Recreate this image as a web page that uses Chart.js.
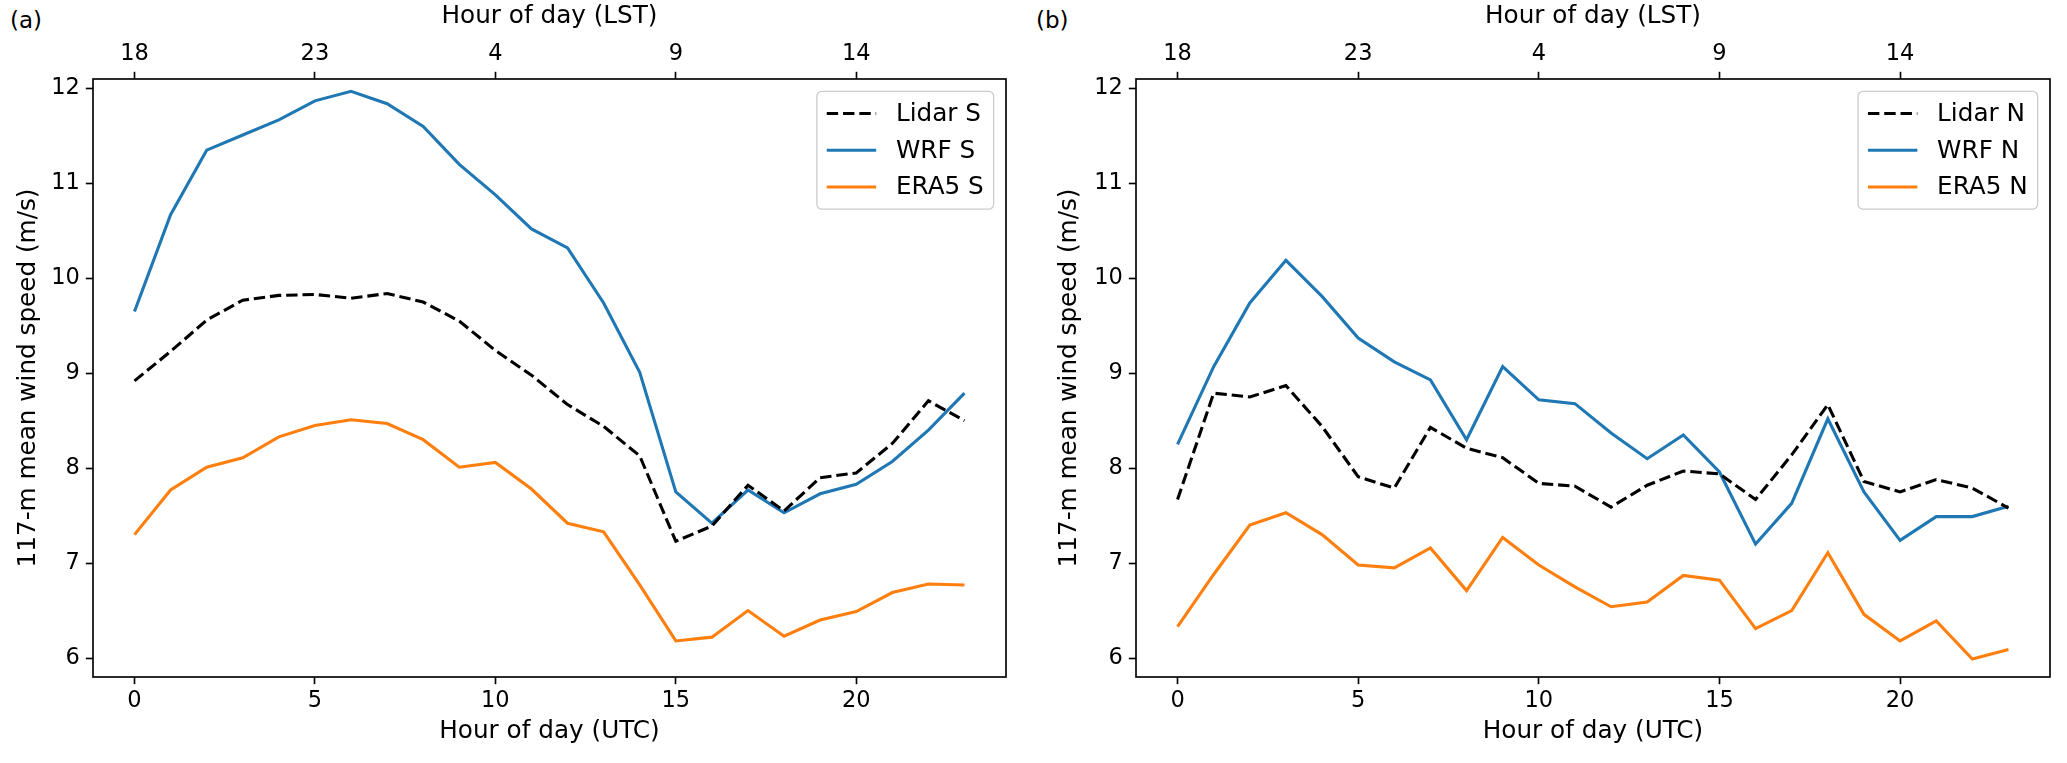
<!DOCTYPE html>
<html lang="en">
<head>
<meta charset="UTF-8">
<title>117-m mean wind speed</title>
<script src="https://cdn.jsdelivr.net/npm/chart.js"></script>
<style>
  body, html {
    margin: 0;
    background: #fff;
    width: 2067px;
    height: 763px;
    overflow: hidden;
    font-family: "DejaVu Sans", sans-serif;
  }
  canvas { position: absolute; top: 0; }
  #chartA { left: 0; }
  #chartB { left: 1030px; }
  .panel-label {
    position: absolute;
    top: 7px;
    font-size: 23px;
    color: #000;
  }
</style>
</head>
<body>
<div class="panel-label" style="left:10px;">(a)</div>
<div class="panel-label" style="left:1036px;">(b)</div>
<canvas id="chartA" width="1030" height="763"></canvas>
<canvas id="chartB" width="1037" height="763"></canvas>

<script>
// data (hour of day, UTC)
const hoursUTC = [0, 1, 2, 3, 4, 5, 6, 7, 8, 9, 10, 11, 12, 13, 14, 15, 16, 17, 18, 19, 20, 21, 22, 23];
const utcTicks = [0, 5, 10, 15, 20];
const lstTickLabels = ['18', '23', '4', '9', '14'];
const yTicks = [6, 7, 8, 9, 10, 11, 12];

// panel (a) - south
const lidarS = [8.92, 9.23, 9.56, 9.77, 9.82, 9.83, 9.79, 9.84, 9.75, 9.55, 9.24, 8.98, 8.67, 8.44, 8.13, 7.23, 7.39, 7.82, 7.55, 7.90, 7.95, 8.26, 8.71, 8.50];
const wrfS   = [9.65, 10.67, 11.35, 11.51, 11.67, 11.87, 11.97, 11.84, 11.60, 11.20, 10.88, 10.52, 10.32, 9.74, 9.01, 7.75, 7.42, 7.77, 7.53, 7.73, 7.83, 8.07, 8.40, 8.79];
const era5S  = [7.30, 7.77, 8.01, 8.11, 8.33, 8.45, 8.51, 8.47, 8.30, 8.01, 8.06, 7.78, 7.42, 7.33, 6.77, 6.18, 6.22, 6.50, 6.23, 6.40, 6.49, 6.69, 6.78, 6.77];

// panel (b) - north
const lidarN = [7.67, 8.79, 8.75, 8.87, 8.44, 7.91, 7.79, 8.43, 8.21, 8.11, 7.84, 7.81, 7.59, 7.82, 7.97, 7.94, 7.67, 8.14, 8.67, 7.86, 7.75, 7.88, 7.79, 7.58];
const wrfN   = [8.25, 9.07, 9.74, 10.19, 9.81, 9.37, 9.12, 8.93, 8.30, 9.07, 8.72, 8.68, 8.37, 8.10, 8.35, 7.96, 7.20, 7.63, 8.52, 7.75, 7.24, 7.49, 7.49, 7.60];
const era5N  = [6.33, 6.88, 7.40, 7.53, 7.30, 6.98, 6.95, 7.16, 6.71, 7.27, 6.98, 6.75, 6.54, 6.59, 6.87, 6.82, 6.31, 6.50, 7.11, 6.46, 6.18, 6.39, 5.99, 6.09];

Chart.defaults.font.family = '"DejaVu Sans", sans-serif';
Chart.defaults.color = '#000';

const TICK_FONT = { family: '"DejaVu Sans", sans-serif', size: 22.5 };
const TITLE_FONT = { family: '"DejaVu Sans", sans-serif', size: 24.7 };

function points(values) {
  return hoursUTC.map((h, i) => ({ x: h, y: values[i] }));
}

// black frame round the plot area
const framePlugin = {
  id: 'frame',
  afterDraw(chart) {
    const a = chart.chartArea, ctx = chart.ctx;
    ctx.save();
    ctx.strokeStyle = '#000';
    ctx.lineWidth = 1.65;
    ctx.strokeRect(a.left, a.top, a.right - a.left, a.bottom - a.top);
    ctx.restore();
  }
};

// matplotlib-like legend box in the upper right corner
const boxLegendPlugin = {
  id: 'boxLegend',
  afterDraw(chart) {
    const a = chart.chartArea, ctx = chart.ctx;
    const sets = chart.data.datasets;
    const fs = 24.7;
    ctx.save();
    ctx.font = fs + 'px "DejaVu Sans", sans-serif';
    let tw = 0;
    sets.forEach(d => { tw = Math.max(tw, ctx.measureText(d.label).width); });
    const pad = 0.4 * fs, handle = 2.0 * fs, gap = 0.8 * fs, row = fs * 0.99, spacing = 0.5 * fs;
    const w = 2 * pad + handle + gap + tw;
    const h = 2 * pad + 3 * row + 2 * spacing;
    const x = a.right - 0.5 * fs - w;
    const y = a.top + 0.5 * fs;
    ctx.fillStyle = 'rgba(255,255,255,0.8)';
    ctx.strokeStyle = '#cccccc';
    ctx.lineWidth = 1.3;
    ctx.beginPath();
    ctx.roundRect(x, y, w, h, 5);
    ctx.fill();
    ctx.stroke();
    sets.forEach((d, i) => {
      const cy = y + pad + row / 2 + i * (row + spacing);
      ctx.strokeStyle = d.borderColor;
      ctx.lineWidth = d.borderWidth;
      ctx.setLineDash(d.borderDash || []);
      ctx.beginPath();
      ctx.moveTo(x + pad, cy);
      ctx.lineTo(x + pad + handle, cy);
      ctx.stroke();
      ctx.setLineDash([]);
      ctx.fillStyle = '#000';
      ctx.textBaseline = 'middle';
      ctx.fillText(d.label, x + pad + handle + gap, cy + 1);
    });
    ctx.restore();
  }
};

function makePanel(id, suffix, lidar, wrf, era5, yAxisWidth, rightPad, yTitlePad) {
  const tickGrid = { drawOnChartArea: false, tickLength: 7.2, tickColor: '#000', tickWidth: 1.65 };
  return new Chart(document.getElementById(id), {
    type: 'line',
    data: {
      datasets: [
        { label: 'Lidar ' + suffix, data: points(lidar), borderColor: '#000000', borderWidth: 3.1, borderDash: [11.4, 4.9], pointRadius: 0, tension: 0, fill: false },
        { label: 'WRF ' + suffix, data: points(wrf), borderColor: '#1f77b4', borderWidth: 3.1, pointRadius: 0, tension: 0, fill: false },
        { label: 'ERA5 ' + suffix, data: points(era5), borderColor: '#ff7f0e', borderWidth: 3.1, pointRadius: 0, tension: 0, fill: false }
      ]
    },
    options: {
      responsive: false,
      animation: false,
      events: [],
      layout: { padding: { left: 0, right: rightPad, top: 0, bottom: 0 } },
      plugins: { legend: { display: false }, tooltip: { enabled: false } },
      scales: {
        x: {
          type: 'linear',
          position: 'bottom',
          min: -1.15,
          max: 24.15,
          grid: tickGrid,
          border: { display: false },
          ticks: { font: TICK_FONT, padding: 3.5, maxRotation: 0 },
          afterBuildTicks: s => { s.ticks = utcTicks.map(v => ({ value: v })); },
          afterFit: s => { s.height = 86; },
          title: { display: true, text: 'Hour of day (UTC)', font: TITLE_FONT, padding: { top: 0, bottom: 17 } }
        },
        xTop: {
          type: 'linear',
          position: 'top',
          min: -1.15,
          max: 24.15,
          grid: tickGrid,
          border: { display: false },
          ticks: { font: TICK_FONT, padding: 4.5, maxRotation: 0, callback: (v) => lstTickLabels[utcTicks.indexOf(v)] },
          afterBuildTicks: s => { s.ticks = utcTicks.map(v => ({ value: v })); },
          afterFit: s => { s.height = 79; },
          title: { display: true, text: 'Hour of day (LST)', font: TITLE_FONT, padding: { top: 2, bottom: 0 } }
        },
        y: {
          type: 'linear',
          min: 5.8,
          max: 12.1,
          grid: tickGrid,
          border: { display: false },
          ticks: { font: TICK_FONT, padding: 6 },
          afterBuildTicks: s => { s.ticks = yTicks.map(v => ({ value: v })); },
          afterFit: s => { s.width = yAxisWidth; },
          title: { display: true, text: '117-m mean wind speed (m/s)', font: TITLE_FONT, padding: { top: yTitlePad, bottom: 0 } }
        }
      }
    },
    plugins: [framePlugin, boxLegendPlugin]
  });
}

makePanel('chartA', 'S', lidarS, wrfS, era5S, 93, 24, 13.5);
makePanel('chartB', 'N', lidarN, wrfN, era5N, 106, 17, 25);
</script>
</body>
</html>
